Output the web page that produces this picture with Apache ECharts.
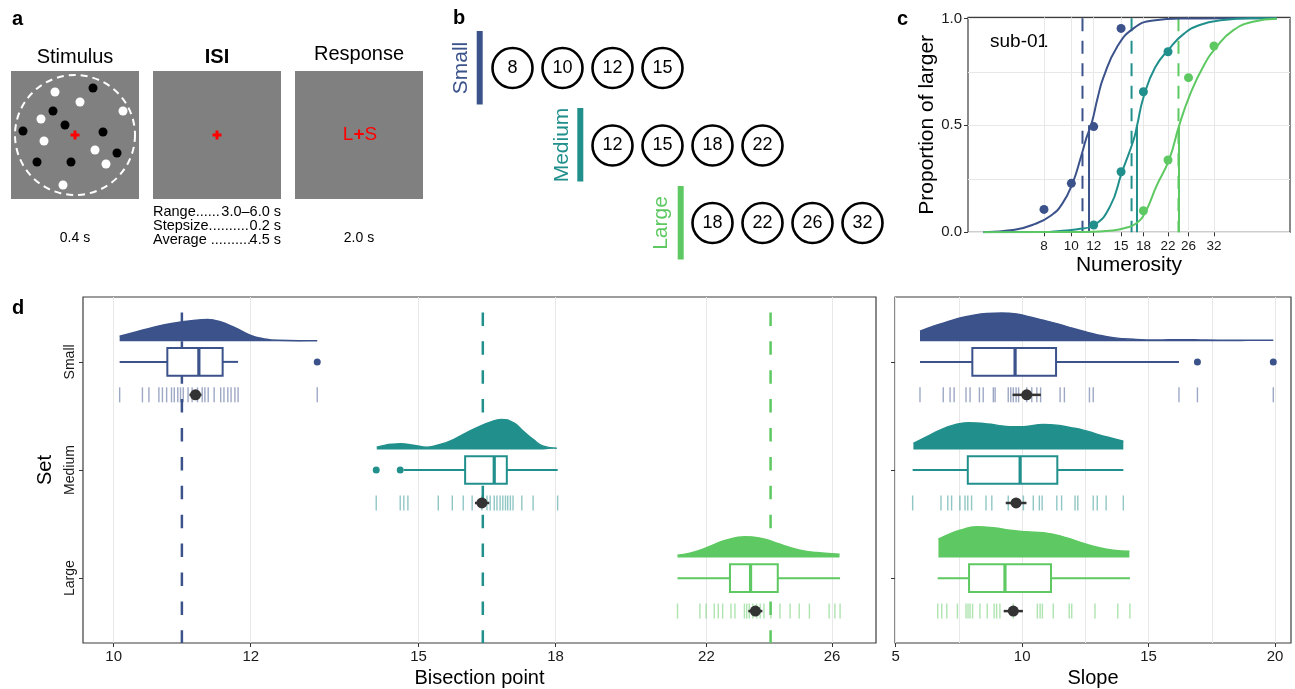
<!DOCTYPE html>
<html><head><meta charset="utf-8">
<script src="https://cdn.jsdelivr.net/npm/echarts@6/dist/echarts.min.js"></script>
<style>html,body{margin:0;padding:0;background:#fff}#c{width:1295px;height:689px}</style>
</head><body><div id="c"></div>
<script>
const FONT = "'Liberation Sans', Arial, sans-serif";
const setNames = ['Small', 'Medium', 'Large'];
const setColors = ['#3b528b', '#21908c', '#5ec962'];

// ---------- panel a ----------
const stimulusTitles = ['Stimulus', 'ISI', 'Response'];
const stimulusDurations = ['0.4 s', '', '2.0 s'];
const isiLabels = ['Range......', 'Stepsize..........', 'Average ..........'];
const isiValues = ['3.0–6.0 s', '0.2 s', '4.5 s'];
const whiteDots = [[44,21],[69,31],[112,40],[30,48],[33,70],[84,79],[95,93],[52,114]];
const blackDots = [[82,17],[42,40],[54,54],[12,60],[92,61],[106,82],[26,91],[60,91]];

// ---------- panel b ----------
const allNumerosities = [8, 10, 12, 15, 18, 22, 26, 32];
const numSmall = [8, 10, 12, 15];
const numMedium = [12, 15, 18, 22];
const numLarge = [18, 22, 26, 32];

// ---------- panel c ----------
const cTicks = [8, 10, 12, 15, 18, 22, 26, 32];
const cYLabels = [0, 0.5, 1];
const cYMinor = [0.25, 0.75];
const subPointsSmall = [[8,0.107],[10,0.229],[12,0.494],[15,0.953]];
const subPointsMedium = [[12,0.034],[15,0.283],[18,0.657],[22,0.844]];
const subPointsLarge = [[18,0.101],[22,0.338],[26,0.723],[32,0.871]];
const fitSmall = [[4.88,0.0],[6.3,0.012],[7.4,0.038],[8.5,0.08],[9.3,0.135],[10.1,0.23],[10.8,0.35],[11.3,0.44],[11.8,0.51],[12.4,0.63],[13.0,0.725],[14.5,0.865],[16.6,0.953],[19.5,0.99],[25,0.999],[35,1.0],[53.4,1.0]];
const fitMedium = [[4.88,0.0],[8,0.001],[9.1,0.006],[10.5,0.014],[12,0.033],[13.7,0.12],[15.1,0.28],[16.6,0.43],[17.1,0.5],[18.0,0.63],[19.8,0.77],[22.3,0.86],[24.9,0.925],[28.5,0.969],[34.5,0.992],[43,1.0],[53.4,1.0]];
const fitLarge = [[4.88,0.0],[10,0.001],[12,0.003],[14,0.008],[15.5,0.02],[17.0,0.042],[18.3,0.095],[20.0,0.215],[22.2,0.34],[24.1,0.5],[26.3,0.642],[29.3,0.774],[32.7,0.867],[37.5,0.945],[44,0.984],[53.4,0.998]];
const psePoints = [11.55, 17.08, 24.06];
const refPoints = [10.95, 16.34, 23.96];

// ---------- panel d : bisection point ----------
const bisTicks = [10, 12, 15, 18, 22, 26];
const bisSmall = [10.08,10.39,10.48,10.62,10.67,10.73,10.80,10.84,10.89,10.93,10.97,11.04,11.10,11.18,11.25,11.29,11.34,11.43,11.53,11.58,11.64,11.69,11.75,11.80,13.11];
const bisMedium = [14.18,14.64,14.71,14.79,15.40,15.69,15.92,16.11,16.32,16.43,16.50,16.59,16.65,16.72,16.78,16.84,16.89,16.95,17.01,17.21,17.47,18.05];
const bisLarge = [21.17,21.81,21.99,22.23,22.35,22.48,22.73,22.85,23.14,23.21,23.29,23.40,23.52,23.63,23.75,23.97,24.26,24.59,24.89,25.23,25.90,26.10,26.28];
const bisBoxSmall = [10.08, 10.74, 11.20, 11.56, 11.80];
const bisBoxMedium = [14.71, 15.96, 16.59, 16.87, 18.05];
const bisBoxLarge = [21.17, 22.70, 23.33, 24.19, 26.28];
const bisOutSmall = [13.11];
const bisOutMedium = [14.18, 14.64];
const bisOutLarge = [];
const bisMean = [11.15, 16.32, 23.48];
const bisCI = [[11.06, 11.24], [16.17, 16.48], [23.26, 23.70]];
const bisDensSmall = [[10.08,5],[10.3,9.3],[10.55,14],[10.8,17.7],[11.15,21],[11.33,21.7],[11.5,20],[11.75,13.7],[12.0,6],[12.2,2.7],[12.45,1],[12.8,0.7],[13.11,0.7]];
const bisDensMedium = [[14.19,2.3],[14.64,5.7],[14.9,4.3],[15.17,2.3],[15.44,5],[15.64,8.3],[15.92,15],[16.21,21.7],[16.5,27.3],[16.75,30],[17.02,26.7],[17.24,18.3],[17.47,10],[17.71,3.3],[18.03,1.3]];
const bisDensLarge = [[21.17,2.3],[21.52,4.3],[21.81,7.3],[22.2,12.7],[22.6,17.7],[23.16,20.7],[23.63,19.3],[24.05,15.7],[24.48,11],[24.92,7.3],[25.48,5],[26.26,3.3]];

// ---------- panel d : slope ----------
const slopeTicks = [5, 10, 15, 20];
const slopeMinor = [7.5, 12.5, 17.5];
const slopeSmall = [5.96,6.88,7.15,7.31,7.78,7.94,8.31,8.46,8.86,8.93,9.45,9.55,9.65,9.76,9.86,10.18,10.38,10.58,10.73,11.50,11.67,12.66,12.81,16.20,16.93,19.93];
const slopeMedium = [5.67,6.79,7.06,7.21,7.54,7.74,7.85,8.00,8.57,8.80,9.45,10.05,10.44,10.68,10.79,11.37,11.56,12.09,12.20,12.81,12.97,13.32,14.00];
const slopeLarge = [6.66,6.82,7.02,7.44,7.78,7.86,7.94,8.04,8.33,8.62,8.89,8.99,9.12,9.65,10.60,10.71,10.80,11.23,11.86,11.96,12.88,13.78,14.26];
const slopeBoxSmall = [5.96, 8.03, 9.72, 11.34, 16.20];
const slopeBoxMedium = [5.67, 7.85, 9.92, 11.39, 14.00];
const slopeBoxLarge = [6.66, 7.90, 9.32, 11.14, 14.26];
const slopeOutSmall = [16.93, 19.93];
const slopeOutMedium = [];
const slopeOutLarge = [];
const slopeMean = [10.18, 9.76, 9.65];
const slopeCI = [[9.62, 10.74], [9.35, 10.17], [9.27, 10.03]];
const slopeDensSmall = [[5.96,10],[6.49,15],[7.02,19.3],[7.54,23.3],[8.07,26],[8.6,27.7],[9.19,28.3],[9.78,27.3],[10.31,24.3],[10.84,21],[11.37,17.7],[11.89,13.7],[12.42,10],[12.95,6.7],[13.61,3.7],[14.4,2],[15.32,1.3],[16.24,1.7],[17.3,1.3],[18.61,1],[19.93,1]];
const slopeDensMedium = [[5.7,6],[6.23,12.7],[6.75,19.3],[7.28,24.3],[7.87,26.7],[8.46,26],[8.99,24.3],[9.52,22.7],[10.05,22.7],[10.84,25],[11.37,24.3],[11.89,22],[12.42,19.3],[12.95,15.3],[13.47,11.7],[14.0,8.3]];
const slopeDensLarge = [[6.69,18.3],[7.02,22.3],[7.54,27.3],[8.2,30.7],[8.86,29.7],[9.52,27.3],[10.18,25.7],[10.84,24.7],[11.5,21.7],[12.16,16.3],[12.81,11.3],[13.61,7.3],[14.24,6.3]];

// ---------- layout / style constants ----------
const BASE_OFF = 0.19, BOX_HALF = 0.128, RUG_OFF = 0.305, DENS_SCALE = 1 / 108;
const TXT = '#1a1a1a', GRIDC = '#e8e8e8', FRAME = '#3d3d3d';
const ln = Math.log, id = v => v;

function boxRender(color) {
  return function (params, api) {
    const y = api.value(0);
    const lo = api.coord([api.value(1), y]);
    const q1 = api.coord([api.value(2), y]);
    const md = api.coord([api.value(3), y]);
    const q3 = api.coord([api.value(4), y]);
    const hi = api.coord([api.value(5), y]);
    const yt = api.coord([api.value(2), y - BOX_HALF])[1];
    const yb = api.coord([api.value(2), y + BOX_HALF])[1];
    const st = { stroke: color, lineWidth: 2, fill: null };
    return { type: 'group', children: [
      { type: 'line', shape: { x1: lo[0], y1: lo[1], x2: q1[0], y2: q1[1] }, style: st },
      { type: 'line', shape: { x1: q3[0], y1: q3[1], x2: hi[0], y2: hi[1] }, style: st },
      { type: 'rect', shape: { x: q1[0], y: Math.min(yt, yb), width: q3[0] - q1[0], height: Math.abs(yb - yt) }, style: { fill: '#fff', stroke: color, lineWidth: 2 } },
      { type: 'line', shape: { x1: md[0], y1: yt, x2: md[0], y2: yb }, style: { stroke: color, lineWidth: 3.2 } }
    ]};
  };
}
function errRender(params, api) {
  const y = api.value(0);
  const a = api.coord([api.value(1), y]);
  const b = api.coord([api.value(2), y]);
  return { type: 'line', shape: { x1: a[0], y1: a[1], x2: b[0], y2: b[1] }, style: { stroke: '#333', lineWidth: 2.5 } };
}

function raincloud(xi, yi, f, idx, rug, box, outs, dens, mean, ci) {
  const c = setColors[idx];
  return [
    { type: 'line', xAxisIndex: xi, yAxisIndex: yi, smooth: 0.5, symbol: 'none', z: 3, silent: true,
      data: dens.map(([v, d]) => [f(v), idx - BASE_OFF - d * DENS_SCALE]),
      lineStyle: { color: c, width: 1.5 }, areaStyle: { color: c, opacity: 1, origin: idx - BASE_OFF } },
    { type: 'custom', xAxisIndex: xi, yAxisIndex: yi, z: 4, silent: true, encode: { x: [1, 2, 3, 4, 5], y: 0 },
      data: [[idx].concat(box.map(f))], renderItem: boxRender(c) },
    { type: 'scatter', xAxisIndex: xi, yAxisIndex: yi, z: 5, silent: true, symbolSize: 7,
      data: outs.map(v => [f(v), idx]), itemStyle: { color: c, opacity: 1 } },
    { type: 'scatter', xAxisIndex: xi, yAxisIndex: yi, z: 4, silent: true, symbol: 'rect', symbolSize: [1.4, 15],
      data: rug.map(v => [f(v), idx + RUG_OFF]), itemStyle: { color: c, opacity: 0.5 } },
    { type: 'custom', xAxisIndex: xi, yAxisIndex: yi, z: 6, silent: true, encode: { x: [1, 2], y: 0 },
      data: [[idx + RUG_OFF, f(ci[0]), f(ci[1])]], renderItem: errRender },
    { type: 'scatter', xAxisIndex: xi, yAxisIndex: yi, z: 7, silent: true, symbolSize: 11,
      data: [[f(mean), idx + RUG_OFF]], itemStyle: { color: '#333', opacity: 1 } }
  ];
}

const hiddenAxis = (g, extra) => Object.assign({ gridIndex: g, type: 'value', show: false }, extra || {});
const tickStyle = { show: true, length: 4, lineStyle: { color: '#333', width: 1 } };

const xAxis = [
  hiddenAxis(0, { min: 0, max: 128 }),
  { gridIndex: 1, type: 'category', data: allNumerosities.map(String), show: false },
  { gridIndex: 2, type: 'value', min: 1.4595, max: 4.086,
    axisLine: { show: false, onZero: false },
    axisTick: Object.assign({ customValues: cTicks.map(ln) }, tickStyle),
    axisLabel: { customValues: cTicks.map(ln), formatter: v => String(Math.round(Math.exp(v))), fontSize: 13.5, color: TXT, margin: 7, fontFamily: FONT },
    splitLine: { show: true, lineStyle: { color: GRIDC, width: 1 } },
    name: 'Numerosity', nameLocation: 'middle', nameGap: 22, nameTextStyle: { fontSize: 21, color: '#000', fontFamily: FONT } },
  { gridIndex: 3, type: 'value', min: 2.2618, max: 3.3166,
    axisLine: { show: false, onZero: false },
    axisTick: Object.assign({ customValues: bisTicks.map(ln) }, tickStyle),
    axisLabel: { customValues: bisTicks.map(ln), formatter: v => String(Math.round(Math.exp(v))), fontSize: 15, color: TXT, margin: 6, fontFamily: FONT },
    splitLine: { show: true, lineStyle: { color: GRIDC, width: 1 } },
    name: 'Bisection point', nameLocation: 'middle', nameGap: 23, nameTextStyle: { fontSize: 20, color: '#000', fontFamily: FONT } },
  { gridIndex: 4, type: 'value', min: 4.972, max: 20.63,
    axisLine: { show: false, onZero: false },
    axisTick: Object.assign({ customValues: slopeTicks }, tickStyle),
    axisLabel: { customValues: slopeTicks, fontSize: 15, color: TXT, margin: 6, fontFamily: FONT },
    splitLine: { show: true, lineStyle: { color: GRIDC, width: 1 } },
    name: 'Slope', nameLocation: 'middle', nameGap: 23, nameTextStyle: { fontSize: 20, color: '#000', fontFamily: FONT } },
  { gridIndex: 4, type: 'value', min: 4.972, max: 20.63, show: true,
    axisLine: { show: false, onZero: false }, axisTick: { show: false, customValues: slopeMinor }, axisLabel: { show: false },
    splitLine: { show: true, lineStyle: { color: GRIDC, width: 1 } } }
];
const yAxis = [
  hiddenAxis(0, { min: 0, max: 128, inverse: true }),
  { gridIndex: 1, type: 'category', data: setNames, inverse: true, show: false },
  { gridIndex: 2, type: 'value', min: 0, max: 1.005,
    axisLine: { show: false, onZero: false },
    axisTick: Object.assign({ customValues: cYLabels }, tickStyle),
    axisLabel: { customValues: cYLabels, formatter: v => v.toFixed(1), fontSize: 15, color: TXT, margin: 6, fontFamily: FONT },
    splitLine: { show: true, lineStyle: { color: GRIDC, width: 1 } },
    name: 'Proportion of larger', nameLocation: 'middle', nameGap: 30, nameRotate: 90, nameTextStyle: { fontSize: 21, color: '#000', fontFamily: FONT } },
  { gridIndex: 3, type: 'value', min: -0.6, max: 2.6, inverse: true,
    axisLine: { show: false, onZero: false },
    axisTick: Object.assign({ customValues: [0, 1, 2] }, tickStyle),
    axisLabel: { customValues: [0, 1, 2], rotate: 90, formatter: v => setNames[Math.round(v)], fontSize: 14, color: TXT, margin: 6, fontFamily: FONT },
    splitLine: { show: false },
    name: 'Set', nameLocation: 'middle', nameGap: 21, nameRotate: 90, nameTextStyle: { fontSize: 20, color: '#000', fontFamily: FONT } },
  { gridIndex: 4, type: 'value', min: -0.6, max: 2.6, inverse: true,
    axisLine: { show: false, onZero: false },
    axisTick: Object.assign({ customValues: [0, 1, 2] }, tickStyle),
    axisLabel: { show: false }, splitLine: { show: false } },
  { gridIndex: 2, type: 'value', min: 0, max: 1.005, show: true,
    axisLine: { show: false, onZero: false }, axisTick: { show: false, customValues: cYMinor }, axisLabel: { show: false },
    splitLine: { show: true, lineStyle: { color: GRIDC, width: 1 } } }
];

const frame = { show: true, borderColor: FRAME, borderWidth: 1.2, backgroundColor: 'transparent', outerBoundsMode: 'none', containLabel: false };
const grid = [
  { left: 11, top: 71, width: 128, height: 128, show: false, outerBoundsMode: 'none' },
  { left: 487.5, top: 29.25, width: 400, height: 232.5, show: false, outerBoundsMode: 'none' },
  Object.assign({ left: 968, top: 17.3, width: 322, height: 215 }, frame),
  Object.assign({ left: 83, top: 297, width: 793, height: 346 }, frame),
  Object.assign({ left: 895, top: 297, width: 396, height: 346 }, frame)
];

const series = [];
series.push({ type: 'scatter', xAxisIndex: 0, yAxisIndex: 0, data: whiteDots, symbolSize: 9, silent: true, itemStyle: { color: '#fff', opacity: 1 } });
series.push({ type: 'scatter', xAxisIndex: 0, yAxisIndex: 0, data: blackDots, symbolSize: 9, silent: true, itemStyle: { color: '#000', opacity: 1 } });
[numSmall, numMedium, numLarge].forEach((arr, i) => {
  series.push({ type: 'scatter', xAxisIndex: 1, yAxisIndex: 1, silent: true, symbolSize: 40,
    data: arr.map(n => [String(n), setNames[i]]),
    itemStyle: { color: '#fff', borderColor: '#000', borderWidth: 2.6, opacity: 1 },
    label: { show: true, position: 'inside', formatter: p => p.value[0], color: '#000', fontSize: 18, fontFamily: FONT } });
});
const fits = [fitSmall, fitMedium, fitLarge];
const subPts = [subPointsSmall, subPointsMedium, subPointsLarge];
[0, 1, 2].forEach(i => {
  const c = setColors[i];
  series.push({ type: 'line', xAxisIndex: 2, yAxisIndex: 2, symbol: 'none', silent: true, z: 2,
    data: [[ln(refPoints[i]), 1.0], [ln(refPoints[i]), 0]], lineStyle: { color: c, width: 2, type: [13, 9.5] } });
  series.push({ type: 'line', xAxisIndex: 2, yAxisIndex: 2, symbol: 'none', silent: true, z: 2,
    data: [[ln(psePoints[i]), 0], [ln(psePoints[i]), 0.5]], lineStyle: { color: c, width: 2 } });
  series.push({ type: 'line', xAxisIndex: 2, yAxisIndex: 2, symbol: 'none', silent: true, z: 3, smooth: 0.5,
    data: fits[i].map(([n, p]) => [ln(n), p]), lineStyle: { color: c, width: 2 } });
  series.push({ type: 'scatter', xAxisIndex: 2, yAxisIndex: 2, silent: true, z: 4, symbolSize: 9,
    data: subPts[i].map(([n, p]) => [ln(n), p]), itemStyle: { color: c, opacity: 1 } });
});
[0, 1, 2].forEach(i => {
  series.push({ type: 'line', xAxisIndex: 3, yAxisIndex: 3, symbol: 'none', silent: true, z: 1,
    data: [[ln(refPoints[i]), -0.6], [ln(refPoints[i]), 2.6]],
    lineStyle: { color: setColors[i], width: 2.5, type: [13.5, 15.4], dashOffset: 13.5 } });
});
const bisRug = [bisSmall, bisMedium, bisLarge], bisBox = [bisBoxSmall, bisBoxMedium, bisBoxLarge];
const bisOut = [bisOutSmall, bisOutMedium, bisOutLarge], bisDens = [bisDensSmall, bisDensMedium, bisDensLarge];
const slRug = [slopeSmall, slopeMedium, slopeLarge], slBox = [slopeBoxSmall, slopeBoxMedium, slopeBoxLarge];
const slOut = [slopeOutSmall, slopeOutMedium, slopeOutLarge], slDens = [slopeDensSmall, slopeDensMedium, slopeDensLarge];
[0, 1, 2].forEach(i => {
  raincloud(3, 3, ln, i, bisRug[i], bisBox[i], bisOut[i], bisDens[i], bisMean[i], bisCI[i]).forEach(s => series.push(s));
  raincloud(4, 4, id, i, slRug[i], slBox[i], slOut[i], slDens[i], slopeMean[i], slopeCI[i]).forEach(s => series.push(s));
});

const T = (x, y, text, o) => ({ type: 'text', x, y, silent: true, rotation: (o && o.rotation) || 0,
  style: Object.assign({ text, fill: '#000', fontSize: 14, fontFamily: FONT, align: 'left', verticalAlign: 'middle' }, (o && o.style) || {}) });
const graphic = [];
graphic.push(T(12, 19, 'a', { style: { fontSize: 20, fontWeight: 'bold' } }));
graphic.push(T(453, 18, 'b', { style: { fontSize: 20, fontWeight: 'bold' } }));
graphic.push(T(897, 19, 'c', { style: { fontSize: 20, fontWeight: 'bold' } }));
graphic.push(T(12, 308, 'd', { style: { fontSize: 20, fontWeight: 'bold' } }));
const sqLeft = [11, 153, 295];
sqLeft.forEach((x, i) => {
  graphic.push({ type: 'rect', silent: true, shape: { x, y: 71, width: 128, height: 128 }, style: { fill: '#808080' } });
  graphic.push(T(x + 64, i === 2 ? 54 : 57, stimulusTitles[i], { style: { fontSize: 20, align: 'center', fontWeight: i === 1 ? 'bold' : 'normal' } }));
  if (stimulusDurations[i]) graphic.push(T(x + 64, 238, stimulusDurations[i], { style: { fontSize: 14, align: 'center' } }));
});
graphic.push({ type: 'circle', silent: true, shape: { cx: 75, cy: 135, r: 60 }, style: { fill: null, stroke: '#fff', lineWidth: 2, lineDash: [7, 5] } });
[75, 217].forEach(cx => {
  graphic.push({ type: 'rect', silent: true, shape: { x: cx - 4.5, y: 133.5, width: 9, height: 3 }, style: { fill: '#ff0000' } });
  graphic.push({ type: 'rect', silent: true, shape: { x: cx - 1.5, y: 130.5, width: 3, height: 9 }, style: { fill: '#ff0000' } });
});
graphic.push({ type: 'text', x: 360, y: 135, silent: true, style: { text: 'L{b|+}S', fill: '#ff0000', fontSize: 19, fontFamily: FONT, align: 'center', verticalAlign: 'middle',
  rich: { b: { fill: '#ff0000', fontSize: 19, fontWeight: 'bold', fontFamily: FONT } } } });
isiLabels.forEach((t, i) => {
  graphic.push(T(153, 212 + i * 14, t, { style: { fontSize: 14.5 } }));
  graphic.push(T(281, 212 + i * 14, isiValues[i], { style: { fontSize: 14.5, align: 'right' } }));
});
const barX = [479.7, 580.3, 680.7], barY = [31, 108, 186], labX = [461.5, 562, 661.5];
[0, 1, 2].forEach(i => {
  graphic.push({ type: 'rect', silent: true, shape: { x: barX[i] - 3, y: barY[i], width: 6, height: 73.5 }, style: { fill: setColors[i] } });
  graphic.push(T(labX[i], barY[i] + 37, setNames[i], { rotation: Math.PI / 2, style: { fontSize: 21, align: 'center', fill: setColors[i] } }));
});
graphic.push(T(990, 42, 'sub-01', { style: { fontSize: 19 } }));

const chart = echarts.init(document.getElementById('c'), null, { renderer: 'canvas' });
chart.setOption({
  animation: false,
  backgroundColor: '#fff',
  textStyle: { fontFamily: FONT },
  grid, xAxis, yAxis, series, graphic
});
</script></body></html>
